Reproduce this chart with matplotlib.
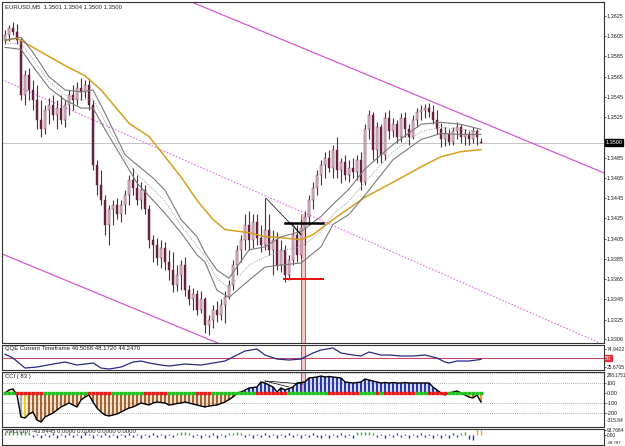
import matplotlib
matplotlib.use('Agg')
import matplotlib.pyplot as plt

plt.rcParams['font.family'] = ['Liberation Sans', 'DejaVu Sans']

W, H = 625, 446

# EURUSD M5 bars, oldest first
opens = [1.3601, 1.3606, 1.3613, 1.3609, 1.3601, 1.3547, 1.3567, 1.3552, 1.3542, 1.3522,
         1.3513, 1.3532, 1.3537, 1.3527, 1.3534, 1.3522, 1.3537, 1.3547, 1.3542, 1.3554,
         1.3550, 1.3557, 1.3537, 1.3478, 1.3458, 1.3443, 1.3419, 1.3434, 1.3438, 1.3429,
         1.3438, 1.3448, 1.3463, 1.3455, 1.3443, 1.3453, 1.3434, 1.3404, 1.3399, 1.3386,
         1.3396, 1.3382, 1.3374, 1.3359, 1.3369, 1.3379, 1.3354, 1.3345, 1.3350, 1.3335,
         1.3345, 1.3320, 1.3325, 1.3335, 1.3330, 1.3340, 1.3347, 1.3359, 1.3379, 1.3394,
         1.3404, 1.3419, 1.3404, 1.3422, 1.3406, 1.3399, 1.3414, 1.3394, 1.3404, 1.3379,
         1.3394, 1.3369, 1.3384, 1.3409, 1.3389, 1.3416, 1.3426, 1.3443, 1.3455, 1.3468,
         1.3478, 1.3485, 1.3475, 1.3493, 1.3473, 1.3481, 1.3468, 1.3475, 1.3471, 1.3483,
         1.3461, 1.3513, 1.3527, 1.3493, 1.3515, 1.3488, 1.3524, 1.3511, 1.3518, 1.3505,
         1.3524, 1.3513, 1.3505, 1.3522, 1.3530, 1.3532, 1.3534, 1.3530, 1.3522, 1.3513,
         1.3503, 1.3508, 1.3501, 1.3511, 1.3515, 1.3505, 1.3508, 1.3503, 1.3511, 1.3501]
highs = [1.3611, 1.3616, 1.3619, 1.3617, 1.3603, 1.3572, 1.3574, 1.3562, 1.3557, 1.3542,
         1.3537, 1.3544, 1.3547, 1.3542, 1.3547, 1.3542, 1.3552, 1.3557, 1.3560, 1.3564,
         1.3562, 1.3564, 1.3542, 1.3483, 1.3473, 1.3448, 1.3438, 1.3443, 1.3445, 1.3443,
         1.3453, 1.3468, 1.3475, 1.3468, 1.3461, 1.3458, 1.3438, 1.3409, 1.3406, 1.3404,
         1.3402, 1.3394, 1.3392, 1.3379, 1.3384, 1.3387, 1.3359, 1.3356, 1.3354, 1.3353,
         1.3347, 1.3330, 1.3340, 1.3343, 1.3345, 1.3353, 1.3364, 1.3384, 1.3399, 1.3409,
         1.3429, 1.3432, 1.3429, 1.3429, 1.3419, 1.3445, 1.3429, 1.3414, 1.3412, 1.3404,
         1.3399, 1.3389, 1.3416, 1.3419, 1.3424, 1.3432, 1.3448, 1.3461, 1.3473, 1.3483,
         1.3491, 1.3493, 1.3498, 1.3505, 1.3485, 1.3488, 1.3483, 1.3485, 1.3488, 1.3491,
         1.3518, 1.3532, 1.3530, 1.3520, 1.3518, 1.3530, 1.3532, 1.3524, 1.3522, 1.3529,
         1.3530, 1.3518, 1.3527, 1.3534, 1.3537, 1.3538, 1.3539, 1.3537, 1.3532, 1.3519,
         1.3515, 1.3513, 1.3515, 1.3520, 1.3518, 1.3513, 1.3511, 1.3515, 1.3513, 1.3504]
lows = [1.3597, 1.3600, 1.3606, 1.3597, 1.3542, 1.3537, 1.3542, 1.3532, 1.3513, 1.3505,
        1.3508, 1.3518, 1.3522, 1.3513, 1.3518, 1.3515, 1.3527, 1.3532, 1.3537, 1.3542,
        1.3544, 1.3532, 1.3473, 1.3448, 1.3438, 1.3409, 1.3399, 1.3419, 1.3424, 1.3422,
        1.3429, 1.3438, 1.3448, 1.3438, 1.3434, 1.3429, 1.3396, 1.3382, 1.3379, 1.3376,
        1.3374, 1.3364, 1.3352, 1.3353, 1.3354, 1.3348, 1.3340, 1.3335, 1.3330, 1.3332,
        1.3312, 1.3310, 1.3317, 1.3323, 1.3325, 1.3322, 1.3345, 1.3354, 1.3369, 1.3382,
        1.3394, 1.3394, 1.3396, 1.3399, 1.3392, 1.3394, 1.3389, 1.3369, 1.3374, 1.3372,
        1.3362, 1.3364, 1.3379, 1.3382, 1.3386, 1.3399, 1.3419, 1.3434, 1.3448, 1.3458,
        1.3465, 1.3471, 1.3465, 1.3465, 1.3460, 1.3463, 1.3461, 1.3465, 1.3463, 1.3453,
        1.3458, 1.3503, 1.3483, 1.3480, 1.3480, 1.3483, 1.3503, 1.3505, 1.3500, 1.3501,
        1.3505, 1.3498, 1.3503, 1.3515, 1.3522, 1.3524, 1.3525, 1.3518, 1.3508, 1.3496,
        1.3497, 1.3498, 1.3498, 1.3503, 1.3500, 1.3498, 1.3498, 1.3500, 1.3498, 1.3500]
closes = [1.3606, 1.3613, 1.3609, 1.3601, 1.3547, 1.3567, 1.3552, 1.3542, 1.3522, 1.3513,
          1.3532, 1.3537, 1.3527, 1.3534, 1.3522, 1.3537, 1.3547, 1.3542, 1.3554, 1.3550,
          1.3557, 1.3537, 1.3478, 1.3458, 1.3443, 1.3419, 1.3434, 1.3438, 1.3429, 1.3438,
          1.3448, 1.3463, 1.3455, 1.3443, 1.3453, 1.3434, 1.3404, 1.3399, 1.3386, 1.3396,
          1.3382, 1.3374, 1.3359, 1.3369, 1.3379, 1.3354, 1.3345, 1.3350, 1.3335, 1.3345,
          1.3320, 1.3325, 1.3335, 1.3330, 1.3340, 1.3347, 1.3359, 1.3379, 1.3394, 1.3404,
          1.3419, 1.3404, 1.3422, 1.3406, 1.3399, 1.3414, 1.3394, 1.3404, 1.3379, 1.3394,
          1.3369, 1.3384, 1.3409, 1.3389, 1.3416, 1.3426, 1.3443, 1.3455, 1.3468, 1.3478,
          1.3485, 1.3475, 1.3493, 1.3473, 1.3481, 1.3468, 1.3475, 1.3471, 1.3483, 1.3461,
          1.3513, 1.3527, 1.3493, 1.3515, 1.3488, 1.3524, 1.3511, 1.3518, 1.3505, 1.3524,
          1.3513, 1.3505, 1.3522, 1.3530, 1.3532, 1.3534, 1.3530, 1.3522, 1.3513, 1.3503,
          1.3508, 1.3501, 1.3511, 1.3515, 1.3505, 1.3508, 1.3503, 1.3511, 1.3505, 1.3500]

# slow moving average (yellow), read at a few bars
slow_bar = [0, 3, 7, 15, 20, 24, 31, 36, 38, 44, 48, 52, 55, 61, 65, 69, 74, 77, 82, 90,
            99, 104, 109, 114, 119]
slow_ma = [1.3601, 1.3603, 1.3594, 1.3576, 1.3566, 1.3552, 1.3519, 1.3506, 1.3496, 1.3466,
           1.3443, 1.3424, 1.3414, 1.3411, 1.3407, 1.3406, 1.3404, 1.3409, 1.3424, 1.3446,
           1.3465, 1.3476, 1.3486, 1.3491, 1.3493]

# envelope around the fast average (grey)
band_bar = [0, 4, 7, 11, 15, 19, 22, 25, 30, 33, 37, 40, 44, 48, 50, 53, 56, 61, 65, 69,
            74, 79, 82, 86, 90, 97, 104, 109, 114, 119]
band_up = [1.3601, 1.3604, 1.3589, 1.3565, 1.3552, 1.3550, 1.3552, 1.3529, 1.3488, 1.3478,
           1.3465, 1.3453, 1.3424, 1.3407, 1.3391, 1.3374, 1.3366, 1.3394, 1.3397, 1.3407,
           1.3412, 1.3427, 1.3439, 1.3454, 1.3474, 1.3498, 1.3518, 1.3520, 1.3518, 1.3513]
band_mid = [1.3598, 1.3598, 1.3582, 1.3560, 1.3547, 1.3542, 1.3543, 1.3521, 1.3484, 1.3469,
            1.3454, 1.3442, 1.3418, 1.3398, 1.3387, 1.3366, 1.3356, 1.3379, 1.3387, 1.3393,
            1.3397, 1.3412, 1.3429, 1.3442, 1.3461, 1.3491, 1.3511, 1.3515, 1.3513, 1.3511]
band_dn = [1.3594, 1.3592, 1.3575, 1.3554, 1.3542, 1.3534, 1.3534, 1.3513, 1.3480, 1.3460,
           1.3443, 1.3430, 1.3411, 1.3389, 1.3382, 1.3354, 1.3347, 1.3364, 1.3377, 1.3379,
           1.3381, 1.3397, 1.3419, 1.3429, 1.3448, 1.3483, 1.3503, 1.3509, 1.3508, 1.3508]

# trend channel anchors (bar, price)
chan_top = ([46.5, 149.75], [1.3639, 1.3470])
chan_bot = ([-0.75, 53.75], [1.3390, 1.3301])
chan_mid = ([-0.75, 149.75], [1.3562, 1.3300])

price_ticks = [1.3625, 1.3605, 1.3585, 1.3565, 1.3545, 1.3525, 1.3485, 1.3465, 1.3445,
               1.3425, 1.3405, 1.3385, 1.3365, 1.3345, 1.3325, 1.3306]
last_price = 1.3500

# QQE line, read at a few bars
qqe_bar = [0, 2, 5, 8, 12, 15, 18, 22, 24, 26, 29, 32, 34, 36, 39, 41, 45, 49, 52, 55,
           58, 60, 63, 65, 68, 71, 74, 77, 79, 82, 84, 87, 89, 91, 94, 96, 99, 102, 105, 108,
           110, 111, 113, 116, 119]
qqe_val = [61.0, 50.3, 22.9, 25.6, 33.8, 39.3, 31.1, 36.6, 22.9, 20.1, 25.6, 39.3, 42.1,
           36.6, 31.1, 28.4, 33.8, 31.1, 36.6, 42.1, 58.5, 69.5, 74.9, 58.5, 47.5, 44.8,
           47.5, 64.0, 72.2, 77.7, 64.0, 58.5, 55.8, 66.7, 58.5, 58.5, 55.8, 55.8, 58.5,
           50.3, 39.3, 36.6, 42.1, 42.1, 46.5]

# CCI(83) per bar
cci = [0, 30, 40, -20, -240, -250, -210, -190, -270, -290,
       -240, -220, -200, -170, -140, -120, -100, -120, -140, -70,
       -40, -20, -90, -150, -190, -220, -230, -220, -210, -190,
       -170, -150, -140, -120, -100, -110, -120, -100, -90, -95,
       -100, -120, -115, -105, -100, -90, -100, -110, -120, -130,
       -140, -130, -125, -120, -105, -90, -65, -40, 0, 10,
       30, 50, 55, 60, 110, 100, 80, 60, 10, 50,
       30, 45, 60, 100, 105, 110, 150, 155, 160, 170,
       160, 165, 160, 155, 150, 110, 105, 100, 105, 110,
       140, 130, 120, 110, 100, 105, 100, 105, 100, 100,
       105, 100, 100, 100, 100, 100, 100, 60, 30, 0,
       -20, 0, 10, 20, 0, -20, -40, -50, -20, -90]
cci_yellow = [1, 2, 5, 116]
cci_gray = [4]
cci_orange = [118, 119]
# bars where the zero strip is red (inclusive ranges)
red_runs = [(3, 7), (8, 9), (21, 26), (35, 40), (48, 51), (63, 70), (81, 88), (93, 93),
            (95, 102), (106, 110)]

# volume oscillator per bar
vo = [50, 80, 90, 70, 75, 55, 40, -30, 25, -40,
      30, -25, 40, -45, 25, -30, 45, -25, 30, -40,
      50, 25, -50, 30, -25, 40, -30, 25, -40, 30,
      -25, 40, -30, 25, -45, 30, -25, 40, -30, 25,
      -40, 30, -25, 45, 55, 60, 40, -30, 25, -40,
      30, -25, 40, -45, 25, -30, 40, 45, 55, 40,
      -25, 30, -40, 25, -30, 40, -25, 30, -45, 25,
      -30, 40, -25, 30, -40, 25, -30, 40, -25, -45,
      30, -40, 25, -30, 40, -25, 30, -45, 50, 60,
      60, 55, 45, -30, 25, -40, 30, -25, 40, -30,
      25, -45, 30, -25, 40, -30, 25, -50, 30, -40,
      25, -45, 40, -30, 45, 55, -70, -90, 110, 100]
vo_green = [0, 1, 2, 3, 4, 5, 6, 43, 44, 45, 46, 56, 57, 58, 59, 88, 89, 90, 91, 92, 114, 115]
vo_orange = [118, 119]

bars = list(range(len(closes)))
TXT = '#202020'
FS = 4.3
FS_AX = 4.0

fig = plt.figure(figsize=(W / 100, H / 100), dpi=100)
fig.patch.set_facecolor('white')


def panel(top, bottom):
    ax = fig.add_axes([2 / W, 1 - bottom / H, 602 / W, (bottom - top) / H])
    ax.set_xlim(-0.75, 149.75)
    ax.set_xticks([])
    for s in ax.spines.values():
        s.set_color('#333333')
        s.set_linewidth(0.8)
    ax.yaxis.tick_right()
    ax.tick_params(axis='y', direction='out', length=1.5, width=0.5, pad=0.6,
                   labelsize=FS_AX, colors=TXT)
    return ax


# ---- main price panel
ax = panel(2, 343)
ax.set_ylim(1.33020, 1.36388)
ax.set_yticks(price_ticks)
ax.set_yticklabels([f'{t:.4f}' for t in price_ticks])
ax.axhline(last_price, color='#c4c4c4', lw=0.7, zorder=1)

ax.plot(*chan_top, color='#d45ad4', lw=0.9, zorder=2)
ax.plot(*chan_bot, color='#d45ad4', lw=0.9, zorder=2)
ax.plot(*chan_mid, color='#e070e0', lw=0.8, ls=(0, (1.5, 1.5)), zorder=2)

ax.plot(slow_bar, slow_ma, color='#d4a020', lw=1.1, zorder=5)
ax.plot(band_bar, band_up, color='#7a7a7a', lw=0.8, zorder=5)
ax.plot(band_bar, band_dn, color='#7a7a7a', lw=0.8, zorder=5)
ax.plot(band_bar, band_mid, color='#a0a0a0', lw=0.6, ls=(0, (1.5, 1.5)), zorder=5)

# red marker band behind the breakout bar
ax.fill_between([74.1, 75.1], 1.3302, 1.3429, color='#f6c6c6', lw=0, zorder=0.5)
ax.vlines([74.1, 75.1], 1.3302, 1.3429, color='#e03030', lw=0.6, zorder=0.6)

wick = '#6a1f3f'
ax.vlines(bars, lows, highs, color=wick, lw=0.8, zorder=3)
body_lo = [min(o, c) for o, c in zip(opens, closes)]
body_h = [max(abs(c - o), 0.00008) for o, c in zip(opens, closes)]
body_c = ['#dcc4ce' if c > o else wick for o, c in zip(opens, closes)]
ax.bar(bars, body_h, bottom=body_lo, width=0.5, color=body_c, edgecolor=wick,
       linewidth=0.3, zorder=4)

# drawn objects around the breakout
ax.plot([70, 79.5], [1.3421, 1.3421], color='black', lw=1.8, zorder=6)
ax.plot([69.75, 79.5], [1.3365, 1.3365], color='#e01010', lw=1.4, zorder=6)
ax.plot([65.25, 74.0], [1.3445, 1.3409], color='black', lw=0.5, zorder=6)
ax.plot([71.5, 74.0], [1.3421, 1.3409], color='black', lw=0.5, zorder=6)

ax.text(0.005, 0.992, 'EURUSD,M5  1.3501 1.3504 1.3500 1.3500', transform=ax.transAxes,
        fontsize=FS, color=TXT, va='top', ha='left')
ax.text(1.002, last_price, '1.3500', transform=ax.get_yaxis_transform(), fontsize=FS_AX,
        color='white', va='center', ha='left',
        bbox=dict(boxstyle='square,pad=0.12', facecolor='black', edgecolor='black'))

# ---- QQE panel
aq = panel(345, 370)
aq.set_ylim(17.5, 85.9)
aq.set_yticks([74.9422, 25.6705])
aq.set_yticklabels(['74.9422', '25.6705'], fontsize=3.6)
aq.axhline(50, color='#c04a6a', lw=0.8, zorder=1)
aq.fill_between([74.1, 75.1], 17.5, 85.9, color='#f6c6c6', lw=0, zorder=0.5)
aq.vlines([74.1, 75.1], 17.5, 85.9, color='#e03030', lw=0.6, zorder=0.6)
aq.plot(qqe_bar, qqe_val, color='#2a2a80', lw=0.9, zorder=3)
aq.text(0.005, 0.95, 'QQE Current Timeframe 46.5068 48.1720 44.2470', transform=aq.transAxes,
        fontsize=FS, color=TXT, va='top', ha='left')
aq.text(1.002, 50, '50', transform=aq.get_yaxis_transform(), fontsize=FS_AX, color='white',
        va='center', ha='left',
        bbox=dict(boxstyle='square,pad=0.12', facecolor='#e03040', edgecolor='#e03040'))

# ---- CCI panel
ac = panel(372, 427)
ac.set_ylim(-340, 210)
ac.set_yticks([100, 0, -100, -200])
ac.set_yticklabels(['100', '0.00', '-100', '-200'])
for lv in (200, 100, -100, -200):
    ac.axhline(lv, color='#909090', lw=0.6, ls=(0, (1, 1.5)), zorder=1)
ac.fill_between([74.1, 75.1], 10, 210, color='#f6c6c6', lw=0, zorder=0.5)
ac.vlines([74.1, 75.1], 10, 210, color='#e03030', lw=0.6, zorder=0.6)

cci_c = []
for i, v in enumerate(cci):
    if i in cci_yellow:
        cci_c.append('#e8d020')
    elif i in cci_gray:
        cci_c.append('#b0b0b0')
    elif i in cci_orange:
        cci_c.append('#f0a030')
    elif v >= 0:
        cci_c.append('#2b3aa8')
    else:
        cci_c.append('#a8642c')
ac.vlines(bars, 0, cci, colors=cci_c, lw=1.7, zorder=2)
ac.plot(bars, cci, color='black', lw=1.0, zorder=3)

strip_c = ['#22c022'] * len(bars)
for a, b in red_runs:
    for i in range(a, b + 1):
        strip_c[i] = '#e01c1c'
ac.hlines([0] * len(bars), [i - 0.5 for i in bars], [i + 0.5 for i in bars],
          colors=strip_c, lw=2.4, zorder=4)
ac.plot([65, 74.5], [120, 90], color='black', lw=0.5, zorder=5)
ac.plot([65, 71], [120, 60], color='black', lw=0.5, zorder=5)

ac.text(0.005, 0.97, 'CCI ( 83 )', transform=ac.transAxes, fontsize=FS, color=TXT,
        va='top', ha='left')
ac.text(1.004, 0.99, '288.1751', transform=ac.transAxes, fontsize=3.3, color=TXT,
        va='top', ha='left')
ac.text(1.004, 0.11, '-315.84', transform=ac.transAxes, fontsize=3.6, color=TXT,
        va='center', ha='left')

# ---- volume oscillator panel
av = panel(429, 445)
av.set_ylim(-170, 110)
av.set_yticks([93.7684, 0])
av.set_yticklabels(['93.7684', '0.00'], fontsize=3.4)
vo_c = []
for i in bars:
    if i in vo_orange:
        vo_c.append('#f0a030')
    elif i in vo_green:
        vo_c.append('#3aa830')
    else:
        vo_c.append('#2030c0')
av.vlines(bars, 0, vo, colors=vo_c, lw=1.0, zorder=2)
av.text(1.004, 0.0, '-38.787', transform=av.transAxes, fontsize=3.2, color=TXT,
        va='bottom', ha='left')
av.text(0.005, 0.97, 'VVO (30) -43.8445 0.0000 0.0000 0.0000 0.0000', transform=av.transAxes,
        fontsize=FS, color=TXT, va='top', ha='left')

fig.savefig('out.png', dpi=100)
